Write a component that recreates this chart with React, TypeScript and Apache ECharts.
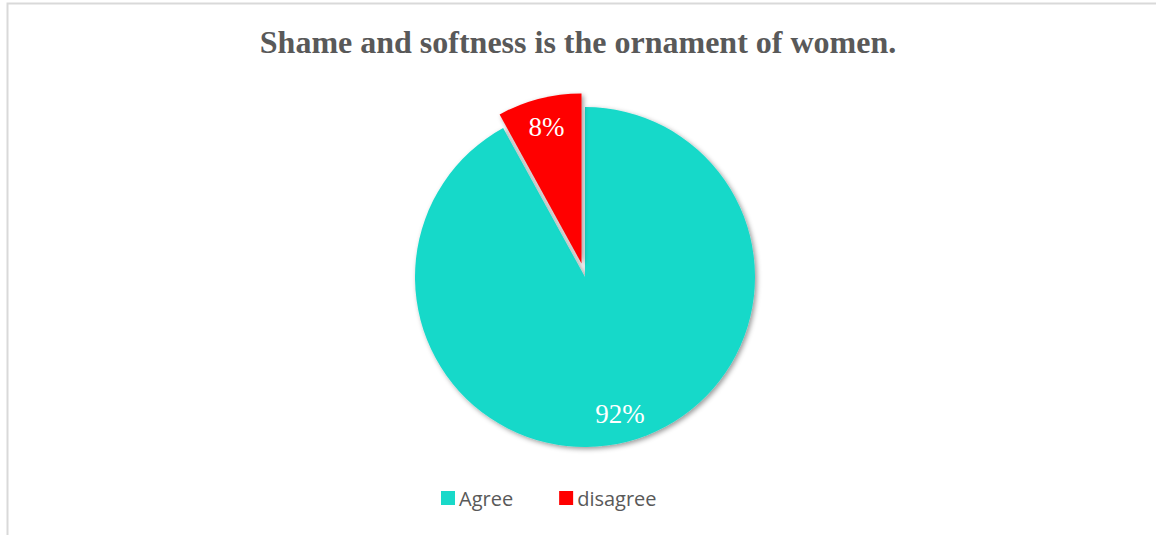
import React, { useEffect, useRef } from "react";
import * as echarts from "echarts";

const titleText = "Shame and softness is the ornament of women.";
const categories = ["Agree", "disagree"];
const values = [92, 8];
const colors = ["#19d9c9", "#ff0000"];

export default function App() {
  const ref = useRef<HTMLDivElement>(null);
  useEffect(() => {
    if (!ref.current) return;
    const chart = echarts.init(ref.current, null, { renderer: "svg" });
    const mainData = categories.map((name, i) => ({
      name,
      value: values[i],
      selected: name === "disagree",
      itemStyle: { color: colors[i] },
    }));
    const labelData = categories.map((name, i) => ({
      name,
      value: values[i],
      selected: name === "disagree",
    }));
    chart.setOption({
      animation: false,
      title: {
        text: titleText,
        left: "center",
        top: 21,
        textStyle: {
          fontFamily: "Liberation Serif, Times New Roman, serif",
          fontWeight: "bold",
          fontSize: 32,
          color: "#595959",
        },
      },
      legend: {
        bottom: 22,
        left: 436,
        itemWidth: 14,
        itemHeight: 14,
        itemGap: 46,
        icon: "rect",
        data: categories.map((name, i) => ({
          name,
          itemStyle: { color: colors[i], opacity: 1, shadowBlur: 0 },
        })),
        textStyle: {
          fontFamily: "Open Sans, Noto Sans, sans-serif",
          fontSize: 20,
          color: "#595959",
          padding: [0, 0, 0, -1],
        },
      },
      graphic: [
        {
          type: "rect",
          shape: { x: 7.5, y: 3.5, width: 1200, height: 600 },
          style: { fill: "none", stroke: "#d9d9d9", lineWidth: 2 },
          silent: true,
        },
      ],
      series: [
        {
          type: "pie",
          center: [585, 277],
          radius: [0, 170],
          startAngle: 90,
          clockwise: true,
          selectedMode: "multiple",
          selectedOffset: 14,
          label: { show: false },
          labelLine: { show: false },
          itemStyle: {
            shadowBlur: 5,
            shadowColor: "rgba(0,0,0,0.4)",
            shadowOffsetX: 2,
            shadowOffsetY: 2,
          },
          emphasis: { disabled: true },
          data: mainData,
        },
        {
          type: "pie",
          center: [585, 277],
          radius: [106, 170],
          startAngle: 90,
          clockwise: true,
          silent: true,
          selectedMode: "multiple",
          selectedOffset: 14,
          itemStyle: { color: "rgba(0,0,0,0)" },
          labelLine: { show: false },
          label: {
            show: true,
            position: "inside",
            formatter: "{c}%",
            fontFamily: "Liberation Serif, Times New Roman, serif",
            fontSize: 27,
            color: "#ffffff",
          },
          emphasis: { disabled: true },
          data: labelData,
        },
      ],
    });
    return () => chart.dispose();
  }, []);
  return (
    <div
      ref={ref}
      style={{ position: "fixed", left: 0, top: 0, width: 1156, height: 535, background: "#fff" }}
    />
  );
}
